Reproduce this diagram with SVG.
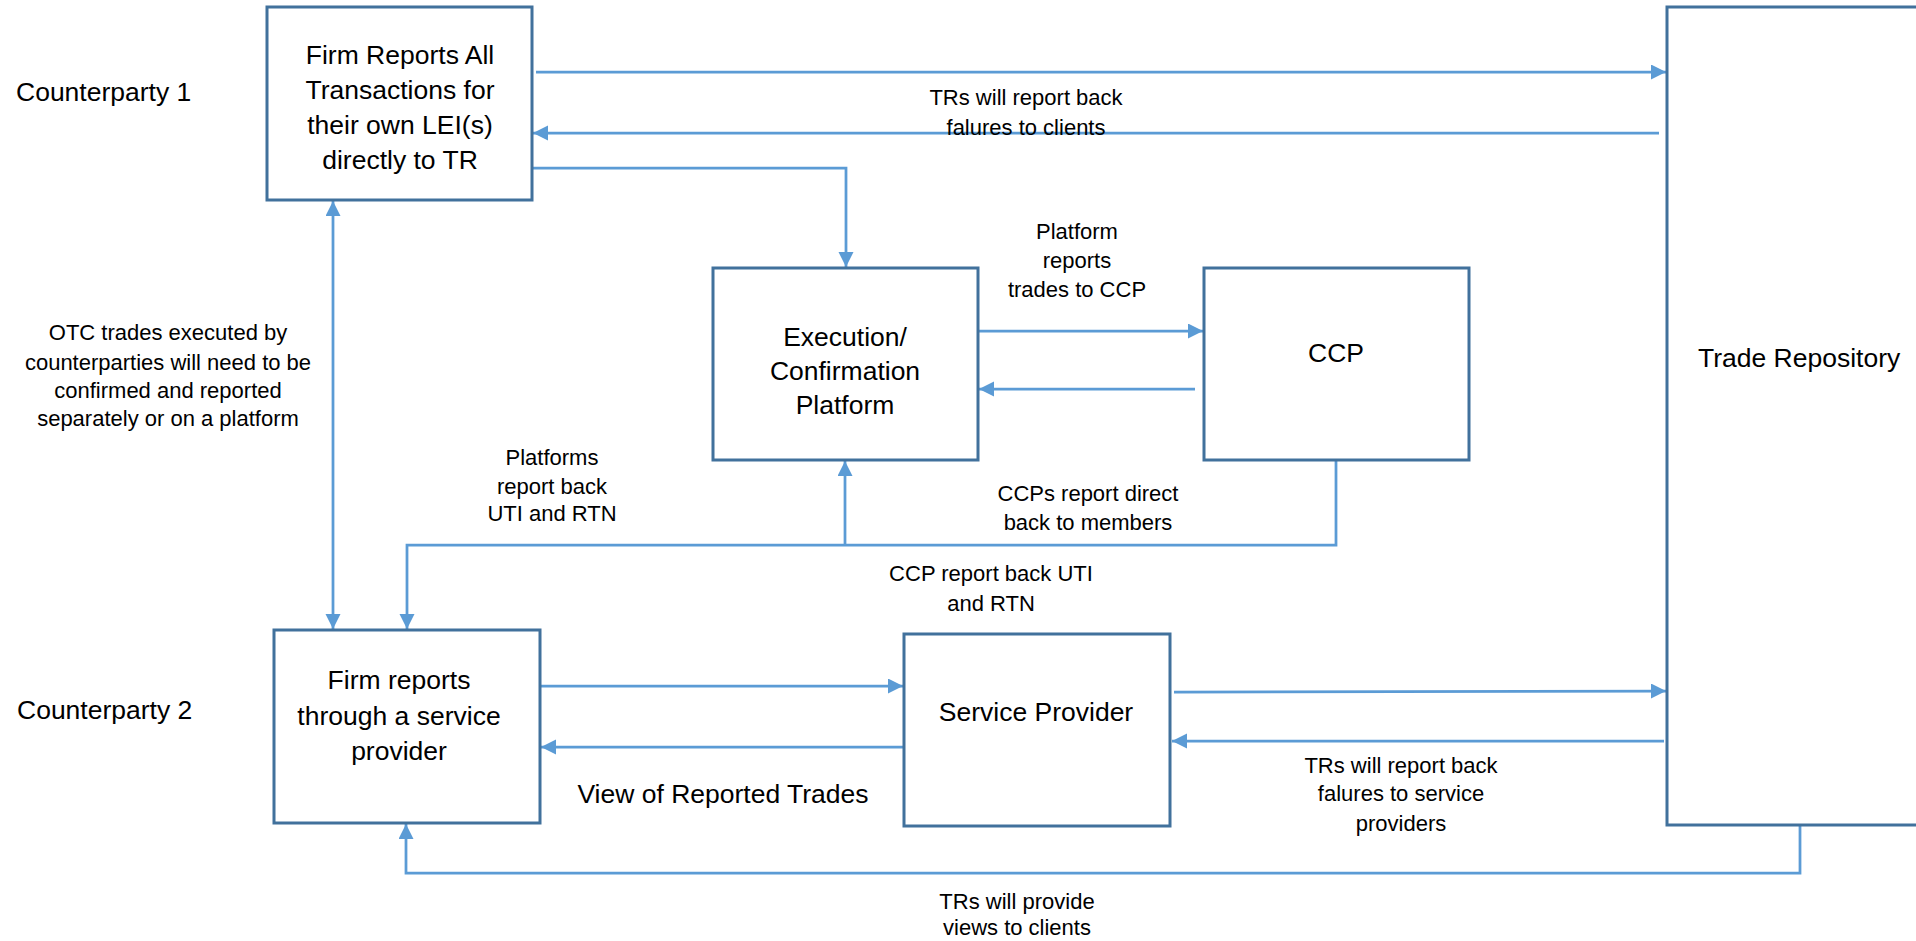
<svg xmlns="http://www.w3.org/2000/svg" width="1916" height="941" viewBox="0 0 1916 941">
<style>
.box{fill:#fff;stroke:#41719C;stroke-width:3}
.c{fill:none;stroke:#5B9BD5;stroke-width:2.75}
.t{font-family:"Liberation Sans",Arial,sans-serif;font-size:26.5px;fill:#000}
.l{font-family:"Liberation Sans",Arial,sans-serif;font-size:22px;fill:#000}
.m{text-anchor:middle}
</style>
<defs>
<marker id="ah" markerUnits="userSpaceOnUse" markerWidth="16" markerHeight="16" refX="15" refY="7.5" orient="auto-start-reverse">
<path d="M0,0 L15,7.5 L0,15 z" fill="#5B9BD5"/>
</marker>
</defs>
<rect width="1916" height="941" fill="#fff"/>
<g id="connectors">
<path class="c" d="M536,72 L1666,72" marker-end="url(#ah)"/>
<path class="c" d="M1659,133 L533,133" marker-end="url(#ah)"/>
<path class="c" d="M533,168 L846,168 L846,267" marker-end="url(#ah)"/>
<path class="c" d="M333,201 L333,629" marker-start="url(#ah)" marker-end="url(#ah)"/>
<path class="c" d="M979,331 L1203,331" marker-end="url(#ah)"/>
<path class="c" d="M1195,389 L979,389" marker-end="url(#ah)"/>
<path class="c" d="M1336,461 L1336,545 L407,545 L407,629" marker-end="url(#ah)"/>
<path class="c" d="M845,545 L845,461" marker-end="url(#ah)"/>
<path class="c" d="M541,686 L903,686" marker-end="url(#ah)"/>
<path class="c" d="M904,747 L541,747" marker-end="url(#ah)"/>
<path class="c" d="M1174,692 L1666,691" marker-end="url(#ah)"/>
<path class="c" d="M1664,741 L1172,741" marker-end="url(#ah)"/>
<path class="c" d="M1800,826 L1800,873 L406,873 L406,824" marker-end="url(#ah)"/>
</g>
<g id="counterparty1"><text class="t" x="16" y="101">Counterparty 1</text></g>
<g id="counterparty2"><text class="t" x="17" y="719">Counterparty 2</text></g>
<g id="firm-direct">
<rect class="box" x="267" y="7" width="265" height="193"/>
<text class="t m" x="400" y="64">Firm Reports All</text>
<text class="t m" x="400" y="99">Transactions for</text>
<text class="t m" x="400" y="134">their own LEI(s)</text>
<text class="t m" x="400" y="169">directly to TR</text>
</g>
<g id="execution">
<rect class="box" x="713" y="268" width="265" height="192"/>
<text class="t m" x="845" y="346">Execution/</text>
<text class="t m" x="845" y="380">Confirmation</text>
<text class="t m" x="845" y="414">Platform</text>
</g>
<g id="ccp">
<rect class="box" x="1204" y="268" width="265" height="192"/>
<text class="t m" x="1336" y="362">CCP</text>
</g>
<g id="trade-repository">
<rect class="box" x="1667" y="7" width="300" height="818"/>
<text class="t" x="1698" y="367">Trade Repository</text>
</g>
<g id="firm-sp">
<rect class="box" x="274" y="630" width="266" height="193"/>
<text class="t m" x="399" y="689">Firm reports</text>
<text class="t m" x="399" y="725">through a service</text>
<text class="t m" x="399" y="760">provider</text>
</g>
<g id="service-provider">
<rect class="box" x="904" y="634" width="266" height="192"/>
<text class="t m" x="1036" y="721">Service Provider</text>
</g>
<g id="labels">
<text class="t m" x="723" y="803">View of Reported Trades</text>
<text class="l m" x="1026" y="105">TRs will report back</text>
<text class="l m" x="1026" y="135">falures to clients</text>
<text class="l m" x="1077" y="239">Platform</text>
<text class="l m" x="1077" y="268">reports</text>
<text class="l m" x="1077" y="297">trades to CCP</text>
<text class="l m" x="168" y="340">OTC trades executed by</text>
<text class="l m" x="168" y="370">counterparties will need to be</text>
<text class="l m" x="168" y="398">confirmed and reported</text>
<text class="l m" x="168" y="426">separately or on a platform</text>
<text class="l m" x="552" y="465">Platforms</text>
<text class="l m" x="552" y="494">report back</text>
<text class="l m" x="552" y="521">UTI and RTN</text>
<text class="l m" x="1088" y="501">CCPs report direct</text>
<text class="l m" x="1088" y="530">back to members</text>
<text class="l m" x="991" y="581">CCP report back UTI</text>
<text class="l m" x="991" y="611">and RTN</text>
<text class="l m" x="1401" y="773">TRs will report back</text>
<text class="l m" x="1401" y="801">falures to service</text>
<text class="l m" x="1401" y="831">providers</text>
<text class="l m" x="1017" y="909">TRs will provide</text>
<text class="l m" x="1017" y="935">views to clients</text>
</g>
</svg>
